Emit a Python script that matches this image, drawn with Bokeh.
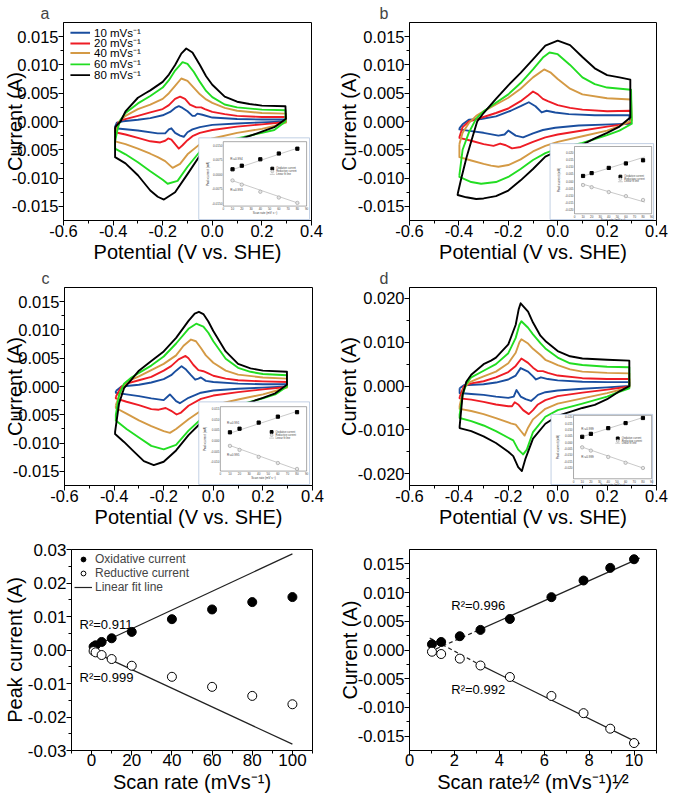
import numpy as np
from bokeh.plotting import figure
from bokeh.models import Range1d, FixedTicker, NumeralTickFormatter, Legend, LegendItem, Label
from bokeh.layouts import column, row
from bokeh.embed import file_html
from bokeh.resources import INLINE
from bokeh.core.properties import value

FONT = "Liberation Sans"

# ---------------- data ----------------
RATES = ["10 mVs\u207b\u00b9", "20 mVs\u207b\u00b9", "40 mVs\u207b\u00b9", "60 mVs\u207b\u00b9", "80 mVs\u207b\u00b9"]
COLORS = ["#1a4e9f", "#ee1c25", "#d49a45", "#22dd22", "#000000"]

# CV loops: (potential V, current mA), upper branch -> right edge -> lower branch
A10 = [(-0.392,-0.9),(-0.385,-0.2),(-0.36,0.05),(-0.3,0.3),(-0.25,0.6),(-0.2,1.1),(-0.17,1.7),(-0.15,2.4),(-0.135,2.7),(-0.12,2.4),(-0.1,1.8),(-0.08,1.0),(-0.07,1.0),(-0.06,1.4),(-0.04,1.2),(0.0,0.7),(0.1,0.45),(0.2,0.35),(0.295,0.35),(0.295,0.0),(0.2,-0.15),(0.1,-0.35),(0.0,-0.6),(-0.05,-1.0),(-0.08,-1.4),(-0.1,-1.9),(-0.115,-2.7),(-0.13,-2.5),(-0.15,-2.0),(-0.165,-1.2),(-0.175,-1.4),(-0.19,-2.1),(-0.22,-2.1),(-0.3,-1.6),(-0.392,-1.2)]
A20 = [(-0.392,-1.6),(-0.38,-0.2),(-0.37,0.2),(-0.3,1.0),(-0.25,1.6),(-0.2,2.2),(-0.175,2.9),(-0.15,4.0),(-0.13,4.4),(-0.11,4.0),(-0.09,3.0),(-0.065,2.5),(-0.045,2.5),(-0.03,2.2),(0.0,1.7),(0.05,1.3),(0.1,1.0),(0.2,0.8),(0.297,0.8),(0.297,-0.1),(0.2,-0.5),(0.1,-0.9),(0.0,-1.5),(-0.05,-2.0),(-0.08,-2.6),(-0.1,-3.3),(-0.12,-4.2),(-0.135,-4.8),(-0.15,-4.0),(-0.165,-3.2),(-0.178,-3.0),(-0.19,-3.4),(-0.21,-3.7),(-0.25,-3.5),(-0.3,-2.9),(-0.35,-2.3),(-0.392,-1.9)]
A40 = [(-0.392,-2.5),(-0.375,0.0),(-0.35,1.0),(-0.3,2.2),(-0.25,3.0),(-0.2,4.0),(-0.175,5.0),(-0.15,6.3),(-0.125,7.6),(-0.1,7.2),(-0.075,6.0),(-0.05,4.8),(-0.025,3.9),(0.0,3.3),(0.05,2.4),(0.1,1.9),(0.2,1.5),(0.297,1.4),(0.297,-0.2),(0.25,-0.8),(0.2,-1.3),(0.1,-2.0),(0.0,-3.0),(-0.05,-4.0),(-0.1,-5.8),(-0.13,-7.5),(-0.16,-8.2),(-0.19,-7.0),(-0.22,-6.3),(-0.25,-5.7),(-0.3,-4.8),(-0.35,-4.0),(-0.392,-3.5)]
A60 = [(-0.392,-3.5),(-0.38,-1.0),(-0.37,0.3),(-0.35,1.5),(-0.3,3.2),(-0.25,4.5),(-0.2,6.0),(-0.175,7.3),(-0.15,9.0),(-0.12,10.5),(-0.1,10.2),(-0.075,8.8),(-0.05,7.0),(-0.025,5.4),(0.0,4.3),(0.05,3.0),(0.1,2.5),(0.2,2.1),(0.295,2.0),(0.295,0.0),(0.25,-1.5),(0.2,-2.0),(0.1,-3.0),(0.0,-4.0),(-0.05,-5.3),(-0.1,-8.0),(-0.14,-10.5),(-0.18,-11.0),(-0.2,-10.3),(-0.25,-8.8),(-0.3,-7.2),(-0.35,-5.8),(-0.392,-4.8)]
A80 = [(-0.392,-1.0),(-0.37,0.0),(-0.35,1.8),(-0.3,4.2),(-0.27,5.0),(-0.25,5.5),(-0.2,7.0),(-0.175,8.3),(-0.15,10.0),(-0.125,12.0),(-0.105,12.9),(-0.08,12.2),(-0.05,10.0),(-0.025,8.0),(0.0,6.5),(0.05,4.4),(0.1,3.5),(0.15,3.1),(0.2,2.8),(0.295,2.7),(0.297,0.5),(0.25,-1.0),(0.2,-1.8),(0.1,-3.3),(0.0,-4.5),(-0.05,-6.0),(-0.1,-9.3),(-0.15,-12.5),(-0.195,-13.8),(-0.22,-13.3),(-0.25,-12.2),(-0.3,-9.5),(-0.35,-7.4),(-0.392,-6.3)]

B10 = [(-0.398,-1.2),(-0.385,-0.5),(-0.36,0.3),(-0.31,0.45),(-0.25,0.9),(-0.19,1.9),(-0.15,2.7),(-0.117,3.4),(-0.09,2.7),(-0.065,1.6),(-0.045,1.9),(-0.01,1.6),(0.045,1.3),(0.15,1.1),(0.29,1.1),(0.293,-0.4),(0.215,-0.5),(0.085,-0.7),(-0.01,-1.1),(-0.06,-1.5),(-0.1,-2.1),(-0.14,-2.8),(-0.17,-2.5),(-0.2,-1.6),(-0.215,-2.3),(-0.24,-2.5),(-0.3,-2.0),(-0.35,-1.7),(-0.398,-1.4)]
B20 = [(-0.398,-2.8),(-0.385,-1.0),(-0.36,0.0),(-0.3,0.8),(-0.25,1.5),(-0.2,2.3),(-0.15,3.6),(-0.12,4.6),(-0.1,5.3),(-0.08,4.8),(-0.06,4.0),(-0.04,3.6),(0.0,2.9),(0.05,2.4),(0.1,2.1),(0.2,1.8),(0.295,1.9),(0.297,-0.1),(0.25,-0.6),(0.2,-0.9),(0.1,-1.6),(0.0,-2.3),(-0.05,-2.8),(-0.1,-3.6),(-0.15,-4.5),(-0.185,-4.75),(-0.21,-4.2),(-0.233,-3.9),(-0.26,-4.3),(-0.3,-4.0),(-0.35,-3.4),(-0.398,-2.9)]
B40 = [(-0.398,-4.0),(-0.385,-2.0),(-0.36,-0.3),(-0.33,1.0),(-0.3,1.8),(-0.25,3.0),(-0.2,4.2),(-0.15,5.8),(-0.1,7.8),(-0.055,9.2),(-0.03,8.7),(0.0,7.5),(0.05,5.8),(0.1,4.8),(0.2,4.1),(0.297,3.9),(0.3,0.2),(0.25,-0.8),(0.2,-1.6),(0.1,-2.6),(0.0,-3.6),(-0.05,-4.3),(-0.1,-5.3),(-0.15,-6.7),(-0.2,-7.7),(-0.24,-8.0),(-0.27,-7.8),(-0.3,-7.5),(-0.35,-6.9),(-0.398,-6.3)]
B60 = [(-0.398,-9.5),(-0.385,-5.0),(-0.36,-2.0),(-0.33,0.5),(-0.3,1.8),(-0.25,3.3),(-0.2,4.8),(-0.15,6.8),(-0.1,9.2),(-0.06,11.3),(-0.033,12.2),(0.0,11.9),(0.05,10.0),(0.1,7.8),(0.15,6.6),(0.2,6.0),(0.297,5.6),(0.3,-0.4),(0.25,-1.6),(0.2,-2.4),(0.1,-3.8),(0.0,-4.8),(-0.05,-5.6),(-0.1,-6.8),(-0.15,-8.4),(-0.2,-9.8),(-0.25,-10.7),(-0.31,-11.0),(-0.35,-10.7),(-0.398,-9.8)]
B80 = [(-0.405,-12.8),(-0.39,-10.0),(-0.37,-6.5),(-0.35,-3.5),(-0.326,0.0),(-0.3,1.5),(-0.25,4.0),(-0.2,6.4),(-0.15,8.6),(-0.1,11.0),(-0.05,13.4),(0.0,14.3),(0.05,13.5),(0.1,11.4),(0.15,9.4),(0.2,8.2),(0.25,7.8),(0.294,7.4),(0.294,0.7),(0.25,-0.9),(0.2,-2.0),(0.15,-3.0),(0.1,-4.1),(0.05,-4.7),(0.0,-5.2),(-0.05,-6.2),(-0.1,-8.4),(-0.15,-10.4),(-0.2,-12.2),(-0.25,-13.2),(-0.3,-13.6),(-0.33,-13.7),(-0.37,-13.4),(-0.405,-13.0)]

C10 = [(-0.393,-0.8),(-0.37,0.0),(-0.3,0.3),(-0.25,0.7),(-0.2,1.3),(-0.17,2.0),(-0.15,2.8),(-0.128,3.6),(-0.11,3.0),(-0.09,2.0),(-0.073,1.2),(-0.06,1.4),(-0.05,1.6),(-0.03,1.0),(0.0,0.8),(0.1,0.5),(0.2,0.4),(0.297,0.4),(0.297,0.0),(0.2,-0.2),(0.1,-0.4),(0.0,-0.7),(-0.05,-1.1),(-0.1,-2.0),(-0.135,-2.95),(-0.15,-2.6),(-0.175,-1.4),(-0.185,-1.8),(-0.2,-2.4),(-0.25,-2.1),(-0.3,-1.7),(-0.35,-1.4),(-0.393,-1.1)]
C20 = [(-0.393,-1.8),(-0.37,0.0),(-0.35,0.5),(-0.3,1.1),(-0.25,1.7),(-0.2,2.8),(-0.17,3.6),(-0.14,4.8),(-0.112,5.4),(-0.1,5.0),(-0.08,3.8),(-0.06,2.9),(-0.04,2.7),(-0.02,2.3),(0.0,1.9),(0.05,1.4),(0.1,1.1),(0.2,0.9),(0.297,0.8),(0.297,-0.1),(0.2,-0.5),(0.1,-1.0),(0.0,-1.6),(-0.05,-2.2),(-0.1,-3.4),(-0.13,-4.6),(-0.148,-4.95),(-0.17,-4.3),(-0.192,-3.8),(-0.22,-4.1),(-0.25,-4.0),(-0.3,-3.3),(-0.35,-2.7),(-0.393,-2.1)]
C40 = [(-0.393,-3.3),(-0.37,-0.5),(-0.35,0.8),(-0.3,1.8),(-0.25,2.9),(-0.2,4.0),(-0.15,5.5),(-0.12,7.2),(-0.09,8.3),(-0.07,8.0),(-0.05,6.8),(-0.03,5.5),(0.0,4.2),(0.05,2.8),(0.1,2.1),(0.2,1.6),(0.297,1.4),(0.297,-0.2),(0.25,-0.8),(0.2,-1.4),(0.1,-2.3),(0.0,-3.3),(-0.05,-4.3),(-0.1,-5.8),(-0.15,-7.5),(-0.175,-8.2),(-0.2,-7.9),(-0.25,-7.0),(-0.3,-6.0),(-0.35,-4.8),(-0.393,-3.8)]
C60 = [(-0.393,-5.0),(-0.38,-1.5),(-0.36,0.5),(-0.33,1.6),(-0.3,2.4),(-0.25,3.7),(-0.2,5.3),(-0.15,7.6),(-0.1,10.2),(-0.069,11.1),(-0.04,10.6),(-0.02,9.5),(0.0,8.0),(0.05,4.9),(0.1,3.3),(0.15,2.6),(0.2,2.2),(0.297,2.0),(0.297,0.0),(0.25,-1.4),(0.2,-2.1),(0.1,-3.3),(0.0,-4.6),(-0.05,-5.8),(-0.1,-7.8),(-0.15,-10.3),(-0.2,-11.1),(-0.25,-10.5),(-0.3,-9.0),(-0.35,-7.5),(-0.393,-6.0)]
C80 = [(-0.396,-8.0),(-0.38,-3.0),(-0.36,-0.3),(-0.33,1.2),(-0.3,2.8),(-0.25,4.5),(-0.2,6.2),(-0.15,8.6),(-0.1,11.6),(-0.075,12.9),(-0.058,13.2),(-0.04,12.8),(-0.02,11.5),(0.0,9.8),(0.05,6.2),(0.1,4.0),(0.15,3.2),(0.2,2.8),(0.297,2.6),(0.297,0.3),(0.25,-1.2),(0.2,-2.0),(0.1,-3.5),(0.0,-5.0),(-0.05,-6.4),(-0.1,-8.6),(-0.15,-11.3),(-0.2,-13.3),(-0.24,-13.9),(-0.28,-13.2),(-0.32,-11.5),(-0.36,-9.8),(-0.396,-8.4)]

D10 = [(-0.397,-0.5),(-0.38,0.2),(-0.3,0.4),(-0.25,0.8),(-0.2,1.5),(-0.17,2.4),(-0.15,4.1),(-0.12,3.3),(-0.1,2.2),(-0.088,1.5),(-0.068,2.0),(-0.04,1.6),(0.0,1.3),(0.1,1.0),(0.2,0.9),(0.29,0.9),(0.29,0.0),(0.2,-0.3),(0.1,-0.6),(0.0,-1.0),(-0.05,-1.4),(-0.08,-2.0),(-0.095,-2.8),(-0.108,-3.4),(-0.13,-3.0),(-0.15,-2.4),(-0.167,-0.9),(-0.178,-2.4),(-0.2,-2.7),(-0.25,-2.4),(-0.3,-2.0),(-0.35,-1.8),(-0.397,-1.6)]
D20 = [(-0.397,-2.5),(-0.38,0.0),(-0.35,0.6),(-0.3,1.1),(-0.25,2.0),(-0.2,3.2),(-0.17,4.6),(-0.147,6.3),(-0.12,5.3),(-0.1,4.2),(-0.08,3.4),(-0.06,3.4),(-0.04,3.0),(0.0,2.4),(0.1,1.8),(0.2,1.6),(0.29,1.6),(0.29,-0.1),(0.2,-0.8),(0.1,-1.5),(0.0,-2.3),(-0.05,-3.2),(-0.08,-4.2),(-0.1,-5.5),(-0.117,-6.4),(-0.14,-5.5),(-0.16,-4.2),(-0.174,-3.7),(-0.185,-4.6),(-0.2,-4.6),(-0.25,-4.2),(-0.3,-3.6),(-0.35,-3.1),(-0.397,-2.8)]
D40 = [(-0.397,-4.5),(-0.38,-0.5),(-0.36,0.8),(-0.33,1.5),(-0.3,2.2),(-0.25,3.3),(-0.2,5.2),(-0.17,7.6),(-0.155,10.0),(-0.147,10.7),(-0.12,9.7),(-0.1,8.5),(-0.07,7.1),(-0.05,6.0),(-0.025,5.4),(0.0,4.8),(0.05,3.8),(0.1,3.3),(0.2,3.0),(0.29,2.9),(0.29,-0.3),(0.25,-0.9),(0.2,-1.6),(0.1,-2.8),(0.0,-4.0),(-0.05,-5.2),(-0.1,-7.6),(-0.12,-9.5),(-0.134,-11.3),(-0.15,-10.2),(-0.17,-8.8),(-0.19,-8.5),(-0.25,-7.3),(-0.3,-6.4),(-0.35,-5.7),(-0.397,-5.2)]
D60 = [(-0.397,-6.5),(-0.385,-2.0),(-0.37,0.5),(-0.35,2.0),(-0.3,3.5),(-0.25,5.0),(-0.2,7.5),(-0.17,11.0),(-0.155,14.0),(-0.147,14.8),(-0.12,13.3),(-0.1,11.8),(-0.07,9.8),(-0.05,8.6),(0.0,6.5),(0.05,5.2),(0.1,4.8),(0.2,4.4),(0.29,4.3),(0.29,-0.5),(0.25,-1.3),(0.2,-2.4),(0.1,-4.0),(0.0,-5.5),(-0.05,-7.0),(-0.1,-10.5),(-0.125,-14.5),(-0.14,-15.6),(-0.16,-14.5),(-0.18,-12.4),(-0.2,-11.8),(-0.25,-10.3),(-0.3,-9.0),(-0.35,-8.0),(-0.397,-7.3)]
D80 = [(-0.397,-9.2),(-0.385,-2.0),(-0.37,1.0),(-0.35,2.6),(-0.3,5.0),(-0.27,5.8),(-0.25,6.5),(-0.2,9.5),(-0.17,14.0),(-0.158,17.5),(-0.15,18.9),(-0.12,17.0),(-0.1,14.5),(-0.07,11.5),(-0.05,10.3),(0.0,8.0),(0.05,6.8),(0.1,6.3),(0.2,6.0),(0.29,5.8),(0.29,0.0),(0.25,-1.2),(0.2,-3.0),(0.15,-4.3),(0.1,-5.0),(0.0,-6.8),(-0.05,-8.6),(-0.1,-12.0),(-0.13,-16.5),(-0.145,-19.4),(-0.16,-18.5),(-0.18,-16.0),(-0.2,-15.0),(-0.25,-13.0),(-0.3,-11.5),(-0.35,-10.3),(-0.397,-9.6)]

# inset data (scan rate mV/s, peak current A)
INSET_RATES = [10, 20, 40, 60, 80]
INS_A_OX = [0.0025, 0.00435, 0.0077, 0.0107, 0.0132]
INS_A_RED = [-0.0033, -0.0055, -0.0092, -0.0122, -0.0150]
INS_B_OX = [0.0034, 0.0054, 0.0090, 0.0121, 0.0143]
INS_B_RED = [-0.0029, -0.0044, -0.0078, -0.0106, -0.0133]
INS_C_OX = [0.0037, 0.0054, 0.0083, 0.0111, 0.0132]
INS_C_RED = [-0.0027, -0.0046, -0.0079, -0.0108, -0.0136]
INS_D_OX = [0.0041, 0.0064, 0.0109, 0.0149, 0.0189]
INS_D_RED = [-0.0042, -0.0068, -0.0118, -0.0164, -0.0205]
INS_FIT_X = [8, 82]
INS_A_FIT = ([0.0020, 0.0138], [-0.0031, -0.0153])
INS_B_FIT = ([0.0029, 0.0166], [-0.0020, -0.0148])
INS_C_FIT = ([0.0030, 0.0139], [-0.0022, -0.0142])
INS_D_FIT = ([0.0037, 0.0197], [-0.0036, -0.0210])

# panel e / f
SCAN = [1, 2, 5, 10, 20, 40, 60, 80, 100]
SQRT_SCAN = [1.0, 1.41, 2.24, 3.16, 4.47, 6.32, 7.75, 8.94, 10.0]
OX = [0.0010, 0.0014, 0.0024, 0.0035, 0.0054, 0.0092, 0.0121, 0.0143, 0.0158]
RED = [-0.0003, -0.0007, -0.0015, -0.0027, -0.0047, -0.0080, -0.0110, -0.0137, -0.0162]
E_FIT_X = [0.5, 100]
E_OX_FIT = [0.0009, 0.0287]
E_RED_FIT = [-0.0004, -0.0281]
F_SOLID_X = [3.1, 10.25]
F_OX_SOLID = [0.0035, 0.0160]
F_RED_SOLID = [-0.0025, -0.0163]
F_DASH_X = [0.9, 3.1]
F_OX_DASH = [-0.0003, 0.0035]
F_RED_DASH = [0.0021, -0.0025]

H = 265
TICK_FS = "16.5px"
LAB_FS = "20px"


def style(p, xlabel, ylabel, ystand, xstand=1, xlstand=-1, tick_fs=TICK_FS):
    p.grid.visible = False
    p.outline_line_color = "black"
    p.outline_line_width = 1
    p.background_fill_color = "white"
    p.border_fill_color = "white"
    for ax in (p.xaxis[0], p.yaxis[0]):
        ax.axis_line_color = "black"
        ax.major_tick_line_color = "black"
        ax.minor_tick_line_color = "black"
        ax.major_tick_out = 5
        ax.major_tick_in = 0
        ax.minor_tick_out = 3
        ax.minor_tick_in = 0
        ax.major_label_text_font = FONT
        ax.major_label_text_font_size = tick_fs
        ax.major_label_text_color = "black"
        ax.axis_label_text_font = FONT
        ax.axis_label_text_font_size = LAB_FS
        ax.axis_label_text_font_style = "normal"
        ax.axis_label_text_color = "black"
    p.xaxis.axis_label = xlabel
    p.yaxis.axis_label = ylabel
    p.xaxis.major_label_standoff = xlstand
    p.xaxis.axis_label_standoff = xstand
    p.yaxis.major_label_standoff = 0
    p.yaxis.axis_label_standoff = ystand


def title(p, letter, off):
    p.title.text = letter
    p.title.text_font = FONT
    p.title.text_font_size = "16px"
    p.title.text_font_style = "normal"
    p.title.align = "left"
    p.title.offset = off
    p.title.standoff = 1


def add_inset(p, cfg):
    L, R, T, B = cfg["main"]
    l, r, t, b = cfg["inner"]
    x0, x1 = 0, 90
    y0, y1 = cfg["yr"]
    fl = (l - L) / (R - L); fr = (r - L) / (R - L)
    span = (x1 - x0) / (fr - fl)
    xs = x0 - fl * span
    fb = (B - b) / (B - T); ft = (B - t) / (B - T)
    yspan = (y1 - y0) / (ft - fb)
    ys = y0 - fb * yspan
    p.extra_x_ranges = {"ins": Range1d(xs, xs + span)}
    p.extra_y_ranges = {"ins": Range1d(ys, ys + yspan)}

    def px2x(px):
        return x0 + (px - l) / (r - l) * (x1 - x0)

    def px2y(py):
        return y1 - (py - t) / (b - t) * (y1 - y0)

    kw = dict(x_range_name="ins", y_range_name="ins")
    ol, orr, ot, ob = cfg["outer"]
    p.quad(left=[px2x(ol)], right=[px2x(orr)], top=[px2y(ot)], bottom=[px2y(ob)],
           fill_color="white", line_color="#a8bcd8", line_width=0.7, **kw)
    p.quad(left=[x0], right=[x1], top=[y1], bottom=[y0], fill_color=None,
           line_color="#555555", line_width=0.5, **kw)
    tf = value(FONT)
    yt = cfg["yticks"]
    p.text(x=[px2x(l - 1)] * len(yt), y=yt, text=[cfg["yfmt"] % v for v in yt],
           text_align="right", text_baseline="middle", text_font=tf,
           text_font_size="3px", text_color="#444444", **kw)
    xt = [0, 10, 20, 30, 40, 50, 60, 70, 80, 90]
    p.text(x=xt, y=[px2y(b + 2.5)] * len(xt), text=[str(v) for v in xt],
           text_align="center", text_baseline="middle", text_font=tf,
           text_font_size="3px", text_color="#444444", **kw)
    p.text(x=[45], y=[px2y(b + 6.5)], text=["Scan rate (mV s\u207b\u00b9)"],
           text_align="center", text_baseline="middle", text_font=tf,
           text_font_size="3px", text_color="#444444", **kw)
    p.text(x=[px2x(l - 16)], y=[(y0 + y1) / 2], text=["Peak current (mA)"], angle=np.pi / 2,
           text_align="center", text_baseline="middle", text_font=tf,
           text_font_size="3px", text_color="#444444", **kw)
    ox_fit, red_fit = cfg["fit"]
    p.line(INS_FIT_X, ox_fit, line_color="#bbbbbb", line_width=0.8, **kw)
    p.line(INS_FIT_X, red_fit, line_color="#bbbbbb", line_width=0.8, **kw)
    p.scatter(INSET_RATES, cfg["ox"], marker="square", size=3.2, fill_color="black",
              line_color="black", **kw)
    p.scatter(INSET_RATES, cfg["red"], marker="circle", size=3.4, fill_color="#e6e6e6",
              line_color="#999999", line_width=0.6, **kw)
    for txt, tx, ty in cfg["r2"]:
        p.text(x=[px2x(tx)], y=[px2y(ty)], text=[txt], text_align="left",
               text_baseline="middle", text_font=tf, text_font_size="3px",
               text_color="#444444", **kw)
    mx, rows = cfg["legend"]
    p.scatter([px2x(mx)], [px2y(rows[0])], marker="square", size=2.8, fill_color="black",
              line_color="black", **kw)
    p.scatter([px2x(mx)], [px2y(rows[1])], marker="circle", size=2.8, fill_color="#e6e6e6",
              line_color="#999999", line_width=0.5, **kw)
    p.line([px2x(mx - 2.5), px2x(mx + 2.5)], [px2y(rows[2])] * 2, line_color="#bbbbbb",
           line_width=0.8, **kw)
    p.text(x=[px2x(mx + 4)] * 3, y=[px2y(v) for v in rows],
           text=["Oxidative current", "Reductive current", "Linear fit line"],
           text_align="left", text_baseline="middle", text_font=tf, text_font_size="2.6px",
           text_color="#444444", **kw)


# legend layout for panel a (positions in potential / current units)
LEG_X = (-0.572, -0.493, -0.477)
LEG_Y = [0.0157, 0.0138, 0.0121, 0.0101, 0.0082]


def cv_fig(curves, letter, toff, width, bl, br, ystand, yr, yticks, yminor, inset, legend=False):
    p = figure(width=width, height=H, x_range=Range1d(-0.6, 0.4), y_range=Range1d(*yr),
               output_backend="svg", toolbar_location=None,
               min_border_left=bl, min_border_right=br, min_border_top=22, min_border_bottom=41)
    style(p, "Potential (V vs. SHE)", "Current (A)", ystand)
    title(p, letter, toff)
    p.xaxis.ticker = FixedTicker(ticks=[-0.6, -0.4, -0.2, 0.0, 0.2, 0.4],
                                 minor_ticks=[-0.5, -0.3, -0.1, 0.1, 0.3])
    p.xaxis.formatter = NumeralTickFormatter(format="0.0")
    p.yaxis.ticker = FixedTicker(ticks=yticks, minor_ticks=yminor)
    p.yaxis.formatter = NumeralTickFormatter(format="0.000")
    for pts, col in zip(curves, COLORS):
        E = [a for a, _ in pts] + [pts[0][0]]
        I = [c * 1e-3 for _, c in pts] + [pts[0][1] * 1e-3]
        p.line(E, I, line_color=col, line_width=1.9, line_join="round")
    add_inset(p, inset)
    if legend:
        for yv, col in zip(LEG_Y, COLORS):
            p.line([LEG_X[0], LEG_X[1]], [yv, yv], line_color=col, line_width=1.9)
        p.text(x=[LEG_X[2]] * 5, y=LEG_Y, text=RATES, text_font=value(FONT),
               text_font_size="11.5px", text_baseline="middle", text_align="left",
               text_color="black")
    return p


INSET_A = dict(main=(65, 318, 23, 229), inner=(228, 313, 147, 214), yr=(-0.01665, 0.01685),
               outer=(203, 316, 143, 228), yticks=[0.015, 0.0075, 0.0, -0.0075, -0.015], yfmt="%.4f",
               ox=INS_A_OX, red=INS_A_RED, fit=INS_A_FIT,
               r2=[("R\u00b2=0.994", 235, 165), ("R\u00b2=0.993", 235, 196.7)],
               legend=(278, [175, 178, 181]))
INSET_B = dict(main=(419, 672, 23, 229), inner=(588, 667, 152, 222), yr=(-0.0229, 0.0239),
               outer=(563, 669, 149, 228), yticks=[0.02, 0.015, 0.01, 0.005, 0.0, -0.005, -0.01, -0.015, -0.02],
               yfmt="%.3f", ox=INS_B_OX, red=INS_B_RED, fit=INS_B_FIT, r2=[],
               legend=(635, [183.3, 186, 188.7]))
INSET_C = dict(main=(66, 319, 293, 499), inner=(225, 313, 417, 484), yr=(-0.0146, 0.0158),
               outer=(203, 316, 412, 498), yticks=[0.015, 0.01, 0.005, 0.0, -0.005, -0.01], yfmt="%.3f",
               ox=INS_C_OX, red=INS_C_RED, fit=INS_C_FIT,
               r2=[("R\u00b2=0.991", 231.7, 433.3), ("R\u00b2=0.995", 231.7, 466.7)],
               legend=(277.3, [443.3, 446.7, 449.7]))
INSET_D = dict(main=(419, 672, 293, 499), inner=(587, 667, 426, 492), yr=(-0.029, 0.021),
               outer=(564, 668, 425, 498), yticks=[0.02, 0.015, 0.01, 0.005, 0.0, -0.005, -0.01, -0.015, -0.02],
               yfmt="%.3f", ox=INS_D_OX, red=INS_D_RED, fit=INS_D_FIT,
               r2=[("R\u00b2=0.999", 595, 440), ("R\u00b2=0.999", 595, 469.3)],
               legend=(632.3, [450, 452.7, 455]))

Y15 = [0.015, 0.01, 0.005, 0.0, -0.005, -0.01, -0.015]
Y15m = [0.0125, 0.0075, 0.0025, -0.0025, -0.0075, -0.0125]

pa = cv_fig([A10, A20, A40, A60, A80], "a", -23, 334, 63, 23, -17, (-0.0175, 0.0175), Y15, Y15m,
            INSET_A, legend=True)
pb = cv_fig([B10, B20, B40, B60, B80], "b", -30, 335, 75, 13, -5, (-0.0175, 0.0175), Y15, Y15m, INSET_B)
pc = cv_fig([C10, C20, C40, C60, C80], "c", -23, 334, 64, 22, -16, (-0.0175, 0.0175), Y15, Y15m, INSET_C)
pd = cv_fig([D10, D20, D40, D60, D80], "d", -30, 335, 75, 13, -5, (-0.0227, 0.0225),
            [0.02, 0.01, 0.0, -0.01, -0.02], [0.015, 0.005, -0.005, -0.015], INSET_D)


def letter_label(p, txt, x, y):
    p.add_layout(Label(x=x, y=y, text=txt, text_font=FONT, text_font_size="15px",
                       text_align="center", text_baseline="middle", text_color="black"))


# ---- panel e ----
pe = figure(width=334, height=H, x_range=Range1d(-10, 110), y_range=Range1d(-0.03, 0.03),
            output_backend="svg", toolbar_location=None,
            min_border_left=65, min_border_right=22, min_border_top=19, min_border_bottom=44)
style(pe, "Scan rate (mVs\u207b\u00b9)", "Peak current (A)", -1, xstand=2, xlstand=-2, tick_fs="17px")
letter_label(pe, "e", -20.2, 0.0331)
pe.xaxis.ticker = FixedTicker(ticks=[0, 20, 40, 60, 80, 100], minor_ticks=[-10, 10, 30, 50, 70, 90, 110])
pe.xaxis.formatter = NumeralTickFormatter(format="0")
pe.yaxis.ticker = FixedTicker(ticks=[0.03, 0.02, 0.01, 0.0, -0.01, -0.02, -0.03],
                              minor_ticks=[0.025, 0.015, 0.005, -0.005, -0.015, -0.025])
pe.yaxis.formatter = NumeralTickFormatter(format="0.00")
r_fit = pe.line(E_FIT_X, E_OX_FIT, line_color="#222222", line_width=1.2)
pe.line(E_FIT_X, E_RED_FIT, line_color="#222222", line_width=1.2)
r_ox = pe.scatter(SCAN, OX, marker="circle", size=9, fill_color="black", line_color="black")
r_red = pe.scatter(SCAN, RED, marker="circle", size=9, fill_color="white", line_color="black", line_width=1)
pe.text(x=[-6, -6], y=[0.0077, -0.0083], text=["R\u00b2=0.911", "R\u00b2=0.999"],
        text_font=value(FONT), text_font_size="13px", text_baseline="middle", text_color="black")
lge = Legend(items=[LegendItem(label="Oxidative current", renderers=[r_ox]),
                    LegendItem(label="Reductive current", renderers=[r_red]),
                    LegendItem(label="Linear fit line", renderers=[r_fit])], location="top_left")
lge.label_text_font = FONT
lge.label_text_font_size = "12px"
lge.label_height = 12
lge.glyph_height = 12
lge.glyph_width = 18
lge.label_standoff = 3
lge.spacing = -2
lge.padding = 0
lge.margin = 3
lge.border_line_color = None
lge.background_fill_alpha = 0
pe.add_layout(lge)

# ---- panel f ----
pf = figure(width=335, height=H, x_range=Range1d(0, 11), y_range=Range1d(-0.0175, 0.0175),
            output_backend="svg", toolbar_location=None,
            min_border_left=75, min_border_right=13, min_border_top=19, min_border_bottom=44)
style(pf, "Scan rate\u00b9\u2044\u00b2 (mVs\u207b\u00b9)\u00b9\u2044\u00b2", "Current (A)", -6, xstand=2, xlstand=-2)
letter_label(pf, "f", -1.16, 0.0193)
pf.xaxis.ticker = FixedTicker(ticks=[0, 2, 4, 6, 8, 10], minor_ticks=[1, 3, 5, 7, 9, 11])
pf.xaxis.formatter = NumeralTickFormatter(format="0")
pf.yaxis.ticker = FixedTicker(ticks=Y15, minor_ticks=Y15m)
pf.yaxis.formatter = NumeralTickFormatter(format="0.000")
pf.line(F_SOLID_X, F_OX_SOLID, line_color="#222222", line_width=1.2)
pf.line(F_SOLID_X, F_RED_SOLID, line_color="#222222", line_width=1.2)
pf.line(F_DASH_X, F_OX_DASH, line_color="#222222", line_width=1.2, line_dash="4 3")
pf.line(F_DASH_X, F_RED_DASH, line_color="#222222", line_width=1.2, line_dash="4 3")
pf.scatter(SQRT_SCAN, OX, marker="circle", size=9, fill_color="black", line_color="black")
pf.scatter(SQRT_SCAN, RED, marker="circle", size=9, fill_color="white", line_color="black", line_width=1)
pf.text(x=[1.86, 1.86], y=[0.0077, -0.0069], text=["R\u00b2=0.996", "R\u00b2=0.992"],
        text_font=value(FONT), text_font_size="13px", text_baseline="middle", text_color="black")

layout = column(row(pa, pb), row(pc, pd), row(pe, pf))
open("out.html", "w").write(file_html(layout, INLINE))
